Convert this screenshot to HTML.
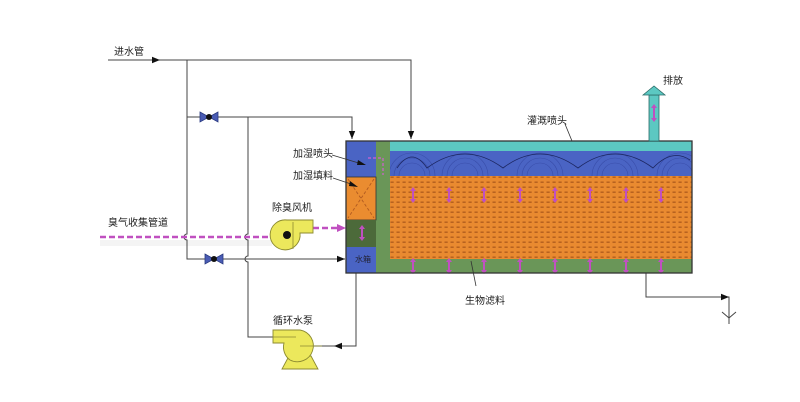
<!DOCTYPE html>
<html><head><meta charset="utf-8">
<style>
html,body{margin:0;padding:0;background:#fff;}
svg{display:block;}
text{font-family:"Liberation Sans","Noto Sans CJK SC",sans-serif;font-size:10px;fill:#222;}
</style></head>
<body>
<svg width="800" height="402" viewBox="0 0 800 402" xmlns="http://www.w3.org/2000/svg">
<defs>
<pattern id="fill" width="6" height="5" patternUnits="userSpaceOnUse">
<rect width="6" height="5" fill="#e98a30"/>
<rect x="0.5" y="1.5" width="3.2" height="1.4" fill="#a8561a" opacity="0.85"/>
</pattern>
<clipPath id="sprayClip"><rect x="390" y="151" width="302" height="25"/></clipPath>
<marker id="ah" viewBox="0 0 10 10" refX="10" refY="5" markerWidth="8" markerHeight="8" orient="auto" markerUnits="userSpaceOnUse"><path d="M0,1 L10,5 L0,9z" fill="#111"/></marker>
</defs>

<!-- gas line shadow -->
<rect x="100" y="240" width="172" height="6" fill="#ececec" opacity="0.6"/>

<!-- pipes -->
<g stroke="#444" stroke-width="1" fill="none">
<path d="M108,60 H411 V139" marker-end="url(#ah)"/>
<line x1="108" y1="60" x2="160" y2="60" marker-end="url(#ah)"/>
<path d="M187,60 V234 A3,3 0 0 0 187,240 V259 H345" />
<line x1="300" y1="259" x2="345" y2="259" marker-end="url(#ah)"/>
<path d="M187,117 H352 V139" marker-end="url(#ah)"/>
<path d="M248,117 V234 A3,3 0 0 0 248,240 V256 A3,3 0 0 0 248,262 V337 H274"/>
<path d="M356,273 V346 H305"/>
<line x1="356" y1="346" x2="334" y2="346" marker-end="url(#ah)"/>
<path d="M646,273 V297 H729 V324"/>
<line x1="700" y1="297" x2="729" y2="297" marker-end="url(#ah)"/>
<path d="M722,312 L729,318 L736,312"/>
</g>

<!-- valves -->
<g fill="#4a5cb4" stroke="#2a3a80" stroke-width="0.8">
<path d="M200,112 L209,117 L200,122z M218,112 L209,117 L218,122z"/>
<path d="M205,254 L214,259 L205,264z M223,254 L214,259 L223,264z"/>
</g>
<circle cx="209" cy="117" r="3" fill="#111"/>
<circle cx="214" cy="259" r="3" fill="#111"/>

<!-- gas line -->
<line x1="100" y1="237" x2="272" y2="237" stroke="#c050c0" stroke-width="2.5" stroke-dasharray="6,3"/>
<line x1="313" y1="228" x2="338" y2="228" stroke="#c050c0" stroke-width="2.5" stroke-dasharray="6,3"/>
<path d="M337,224 L346,228 L337,232z" fill="#c050c0"/>

<!-- fan -->
<g fill="#ece85c" stroke="#8c8a30" stroke-width="0.9">
<path d="M287,220 H313 V233 H300 A15,15 0 1 1 287,220z"/>
</g>
<line x1="293" y1="222" x2="293" y2="249" stroke="#8c8a30" stroke-width="0.8"/>
<circle cx="287" cy="235" r="4" fill="#111"/>

<!-- pump -->
<g fill="#ece85c" stroke="#8c8a30" stroke-width="0.9">
<path d="M289,356 L311,356 L318,369 L282,369z"/>
<path d="M273,330 H300 A16,16 0 1 1 290,360 A16,16 0 0 1 284,343 H273z"/>
</g>
<line x1="273" y1="337" x2="296" y2="337" stroke="#8c8a30" stroke-width="0.8"/>
<line x1="300" y1="346" x2="322" y2="346" stroke="#8c8a30" stroke-width="0.8"/>

<!-- tank -->
<rect x="390" y="176" width="302" height="83" fill="url(#fill)"/>
<rect x="390" y="141" width="302" height="10" fill="#5cc8c2"/>
<rect x="390" y="151" width="302" height="25" fill="#4a64c4"/>
<rect x="376" y="141" width="14" height="132" fill="#6a9658"/>
<rect x="376" y="259" width="316" height="14" fill="#6a9658"/>
<rect x="346" y="141" width="30" height="36" fill="#4a64c4"/>
<rect x="346" y="177" width="30" height="43" fill="#ea8c30" stroke="#333" stroke-width="0.8"/>
<path d="M348,179 L374,218 M374,179 L348,218" stroke="#b05a20" stroke-width="0.9" stroke-dasharray="3,2"/>
<rect x="346" y="220" width="30" height="27" fill="#4c6a3a"/>
<rect x="346" y="247" width="30" height="26" fill="#4a64c4"/>
<text x="355" y="262" style="font-size:8px;fill:#223">水箱</text>

<!-- spray arcs -->
<g clip-path="url(#sprayClip)" fill="none" stroke="#2c3c96" stroke-width="0.6" opacity="0.55">
<g id="arcs">
<path d="M452,176 A13,13 0 0 1 478,176"/>
<path d="M447,176 A18,18 0 0 1 483,176"/>
<path d="M442,176 A23,23 0 0 1 488,176"/>
</g>
<use href="#arcs" x="-53"/><use href="#arcs" x="75"/><use href="#arcs" x="150"/><use href="#arcs" x="215"/>
</g>
<path d="M397,168 Q412,146 427,168 Q465,140 503,168 Q540,140 578,168 Q615,140 653,168 Q672,148 690,160" fill="none" stroke="#1c2660" stroke-width="0.8"/>

<!-- pink arrows -->
<g stroke="#c050c0" stroke-width="2" fill="#c050c0">
<g id="pa"><line x1="413" y1="191" x2="413" y2="199"/><path d="M410,191 L413,187 L416,191z M410,199 L413,203 L416,199z" stroke="none"/></g>
<use href="#pa" x="36"/><use href="#pa" x="71"/><use href="#pa" x="107"/><use href="#pa" x="142"/><use href="#pa" x="177"/><use href="#pa" x="213"/><use href="#pa" x="248"/>
<use href="#pa" y="71"/><use href="#pa" x="36" y="71"/><use href="#pa" x="71" y="71"/><use href="#pa" x="107" y="71"/><use href="#pa" x="142" y="71"/><use href="#pa" x="177" y="71"/><use href="#pa" x="213" y="71"/><use href="#pa" x="248" y="71"/>
<use href="#pa" x="-51" y="38"/>
</g>
<path d="M368,158 H383 V175" fill="none" stroke="#d060d0" stroke-width="1.2" stroke-dasharray="3,2"/>

<!-- tank outline -->
<rect x="346" y="141" width="346" height="132" fill="none" stroke="#333" stroke-width="1.3"/>

<!-- stack -->
<rect x="649" y="95" width="10" height="46" fill="#5cc8c2" stroke="#2a6a66" stroke-width="0.8"/>
<path d="M643,95 L654,86 L665,95z" fill="#5cc8c2" stroke="#2a6a66" stroke-width="0.8"/>
<line x1="654" y1="108" x2="654" y2="118" stroke="#c050c0" stroke-width="2"/>
<path d="M651,108 L654,104 L657,108z M651,118 L654,122 L657,118z" fill="#c050c0"/>

<!-- leaders -->
<g stroke="#333" stroke-width="0.8" fill="none">
<line x1="332" y1="155" x2="362" y2="164"/>
<line x1="333" y1="178" x2="354" y2="185"/>
<line x1="565" y1="124" x2="572" y2="141"/>
<line x1="471" y1="261" x2="476" y2="286"/>
</g>
<path d="M366,165 L358,160 L357,165z" fill="#111"/>
<path d="M358,187 L350,181 L349,186z" fill="#111"/>

<!-- labels -->
<text x="114" y="55">进水管</text>
<text x="108" y="226">臭气收集管道</text>
<text x="272" y="211">除臭风机</text>
<text x="273" y="324">循环水泵</text>
<text x="293" y="157">加湿喷头</text>
<text x="293" y="179">加湿填料</text>
<text x="527" y="124">灌溉喷头</text>
<text x="663" y="84">排放</text>
<text x="465" y="304">生物滤料</text>
</svg>
</body></html>
